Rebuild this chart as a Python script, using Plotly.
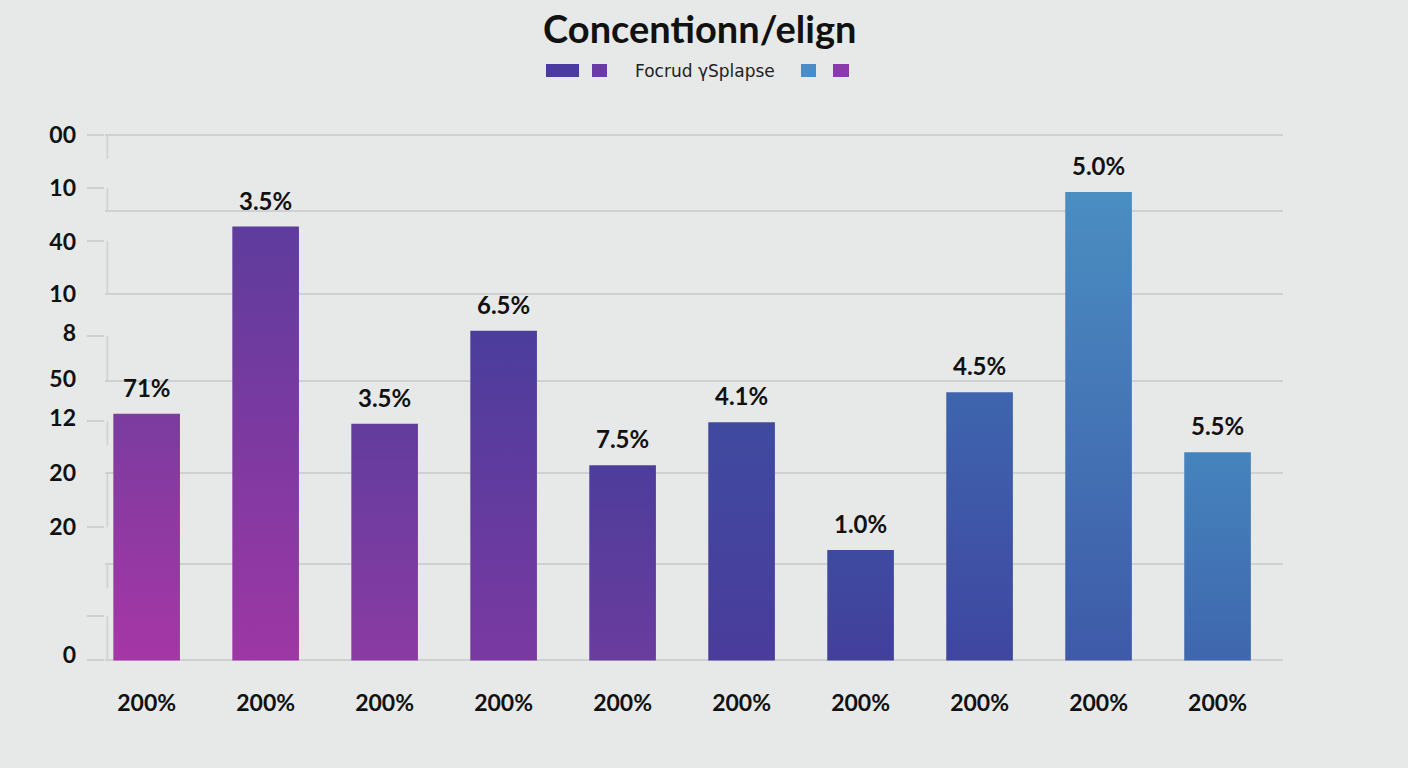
import plotly.graph_objects as go

# ---------------- data ----------------
categories = ["200%"] * 10
values = [46.9, 82.5, 45.0, 62.7, 37.1, 45.3, 21.0, 51.0, 89.1, 39.6]
value_labels = ["71%", "3.5%", "3.5%", "6.5%", "7.5%", "4.1%", "1.0%", "4.5%", "5.0%", "5.5%"]
bottom_colors = ["#a636a6", "#9d37a5", "#8b3ba3", "#7a39a2", "#6a3c9e",
                 "#4a3c9c", "#433f9c", "#3f46a0", "#3e5aa8", "#3f66ae"]
top_colors = ["#7b3c9f", "#5e3c9d", "#623c9e", "#4b3d9c", "#4d3d9b",
              "#3f4a9f", "#3e4ba0", "#3e65ae", "#4a8ec2", "#4584bd"]

y_label_vals = [100, 89.9, 79.6, 69.7, 62.3, 53.5, 46.1, 35.6, 25.3, 1.0]
y_label_text = ["00", "10", "40", "10", "8", "50", "12", "20", "20", "0"]
y_stub_vals = [100, 89.9, 79.8, 61.7, 45.5, 25.3, 8.4, 0]
y_grid_vals = [100, 85.5, 69.7, 53.1, 35.6, 18.3, 0]
bracket_segments = [(100, 95.4), (89.9, 85.5), (79.8, 69.7), (61.7, 53.1),
                    (45.5, 40.9), (35.6, 25.3), (18.3, 13.7), (8.4, 0.2)]

legend_colors = ["#4b3ba0", "#6a3ba8", "#4a8cc8", "#8a3aaa"]
legend_text = "Focrud γSplapse"
title_text = "Concentionn/elign"

BG = "#e6e9e8"
GRID = "#cdd1d1"
FONT = "Lato"
bar_w = 0.56
Y_RANGE = [-0.3, 100.3]

fig = go.Figure()

for i, v in enumerate(values):
    x0, x1 = i - bar_w / 2, i + bar_w / 2
    fig.add_trace(go.Scatter(
        x=[x0, x0, x1, x1, x0], y=[0, v, v, 0, 0],
        mode="lines", line=dict(width=0), fill="toself",
        fillgradient=dict(type="vertical",
                          colorscale=[[0, bottom_colors[i]], [1, top_colors[i]]]),
        showlegend=False, hoverinfo="skip"))

# stub ticks axis and grid axis (invisible traces to activate overlays)
fig.add_trace(go.Scatter(x=[0], y=[0], yaxis="y2", mode="markers",
                         marker=dict(opacity=0), showlegend=False, hoverinfo="skip"))
fig.add_trace(go.Scatter(x=[0], y=[0], yaxis="y3", mode="markers",
                         marker=dict(opacity=0), showlegend=False, hoverinfo="skip"))

for i, (v, t) in enumerate(zip(values, value_labels)):
    fig.add_annotation(x=i, y=v, text=t, showarrow=False, yanchor="bottom", yshift=10,
                       font=dict(family=FONT, size=24, color="#111111", weight="bold"))

for a, b in bracket_segments:
    fig.add_shape(type="line", xref="paper", yref="y", x0=0.002, x1=0.002, y0=a, y1=b,
                  line=dict(color=GRID, width=1.5), layer="below")

# legend (decorative)
PW, PT, PH = 1178, 133, 529
sw = [(546, 579), (592, 607), (801, 816), (833, 849)]
for (xa, xb), c in zip(sw, legend_colors):
    fig.add_shape(type="rect", xref="paper", yref="paper",
                  x0=(xa - 105) / PW, x1=(xb - 105) / PW,
                  y0=(PT + PH - 77) / PH, y1=(PT + PH - 64) / PH,
                  fillcolor=c, line=dict(width=0))
fig.add_annotation(xref="paper", yref="paper", x=(705 - 105) / PW, y=(PT + PH - 71) / PH,
                   text=legend_text, showarrow=False, xanchor="center", yanchor="middle",
                   font=dict(family="DejaVu Sans", size=17, color="#222222"))

axis_common = dict(range=Y_RANGE, fixedrange=True, zeroline=False, showline=False)
fig.update_layout(
    width=1408, height=768,
    paper_bgcolor=BG, plot_bgcolor=BG,
    margin=dict(l=105, r=125, t=133, b=106),
    title=dict(text=title_text, x=0.497, xanchor="center", y=0.961, yanchor="middle",
               font=dict(family=FONT, size=38, color="#111111", weight="bold")),
    showlegend=False,
    xaxis=dict(range=[-0.35, 9.55], tickvals=list(range(10)), ticktext=categories,
               showgrid=False, zeroline=False, showline=False, ticks="",
               ticklabelstandoff=25, fixedrange=True,
               tickfont=dict(family=FONT, size=23, color="#111111", weight="bold")),
    yaxis=dict(**axis_common, tickvals=y_label_vals, ticktext=y_label_text,
               showgrid=False, ticks="", ticklabelstandoff=28,
               tickfont=dict(family=FONT, size=23, color="#111111", weight="bold")),
    yaxis2=dict(**axis_common, overlaying="y", side="left", tickvals=y_stub_vals,
                showticklabels=False, showgrid=False, ticks="outside", ticklen=17,
                tickcolor=GRID, tickwidth=1.5),
    yaxis3=dict(**axis_common, overlaying="y", side="left", tickvals=y_grid_vals,
                showticklabels=False, showgrid=True, gridcolor=GRID, gridwidth=1.5,
                ticks=""),
)

fig.write_html("out.html",
               config={"displayModeBar": False},
               post_script="document.body.style.margin='0';"
                           "document.body.style.background='#e6e9e8';")
